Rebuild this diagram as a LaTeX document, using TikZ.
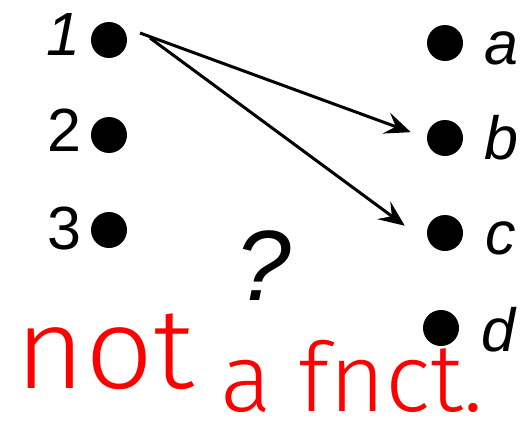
\documentclass[tikz,border=0pt]{standalone}
\usepackage{fontspec}
\setmainfont{Liberation Sans}
\IfFontExistsTF{Fira Sans Light}
    {\newfontfamily\handfont{Fira Sans Light}}
    {\newfontfamily\handfont{Liberation Sans}}
\usetikzlibrary{arrows.meta}

\begin{document}
\begin{tikzpicture}
    [x=1pt, y=-1pt,
    node distance=95pt,
    dot/.style={circle, fill=black, inner sep=0pt, minimum size=36pt},
    lbl/.style={font=\fontsize{61pt}{61pt}\selectfont, text height=43pt, text depth=0pt, inner sep=0pt},
    fnarrow/.style={line width=3pt, -{Stealth[length=26pt, width=22pt, inset=10pt]}},
    scrawl/.style={red, anchor=base, inner sep=0pt, font=\handfont}]
        \useasboundingbox (0,0) rectangle (527,436);

        \node[dot] (one) at (109,40) {};
        \node[dot, below of = one] (two) {};
        \node[dot, below of = two] (three) {};
        \node[lbl, node distance=46pt, left of = one, yshift=6pt] (one-l) {\itshape 1};
        \node[lbl, node distance=45pt, left of = two, yshift=5pt] (two-l) {2};
        \node[lbl, node distance=45pt, left of = three, yshift=2pt] (three-l) {3};

        \node[dot] (a) at (445,43) {};
        \node[dot, below of = a] (b) {};
        \node[dot, below of = b] (c) {};
        \node[dot, below of = c, xshift=-4pt] (d) {};
        \node[lbl, node distance=56pt, right of = a] (a-l) {\itshape a};
        \node[lbl, node distance=56pt, right of = b] (b-l) {\itshape b};
        \node[lbl, node distance=56pt, right of = c] (c-l) {\itshape c};
        \node[lbl, node distance=57pt, right of = d, yshift=-2pt] (d-l) {\itshape d};

        \coordinate (tail1) at (140,33);
        \coordinate (tail2) at (150,38);
        \draw[fnarrow, shorten >=17pt] (tail1) -- (b.west);
        \draw[fnarrow, shorten >=34pt] (tail2) -- (c.south west);

        \node[font=\fontsize{100pt}{100pt}\selectfont\itshape, anchor=base, inner sep=0pt] (q) at (263,300) {?};

        \node[scrawl] (not) at (105,388) {\fontsize{114pt}{114pt}\selectfont\scalebox{1.05}[1]{not}};
        \node[scrawl] (afnct) at (352,411) {\fontsize{96pt}{96pt}\selectfont a fnct.};
\end{tikzpicture}
\end{document}
